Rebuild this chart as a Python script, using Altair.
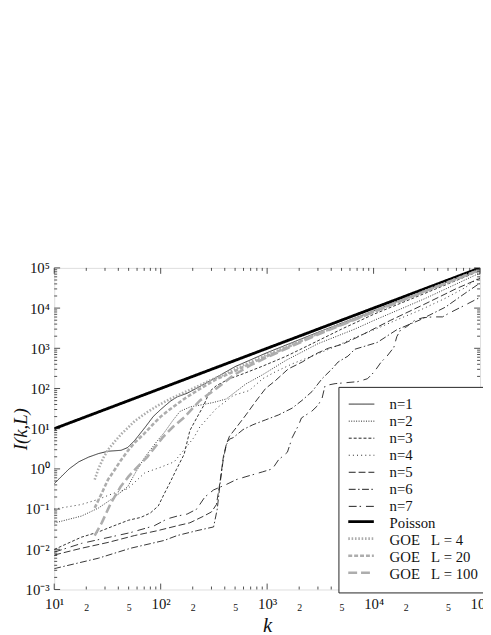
import math
import altair as alt
import pandas as pd

# ---------------- data ----------------
thin_names = ["n=1", "n=2", "n=3", "n=4", "n=5", "n=6", "n=7"]
thick_names = ["Poisson",
               "GOE\u00a0\u00a0\u00a0L\u00a0=\u00a04",
               "GOE\u00a0\u00a0\u00a0L\u00a0=\u00a020",
               "GOE\u00a0\u00a0\u00a0L\u00a0=\u00a0100"]
names = thin_names + thick_names

n1_k = [10, 13.8, 17, 21, 26, 32, 42.5, 49, 57, 71, 85, 100, 123, 143, 177, 233, 334, 500, 1000, 3000, 10000, 30000, 100000]
n1_I = [0.43, 1.0, 1.5, 1.96, 2.4, 2.75, 2.9, 3.4, 5.1, 10.6, 20, 30, 48, 62, 76, 112, 190, 350, 780, 2500, 8500, 27000, 90000]

n2_k = [10, 18, 26, 37, 49, 57, 71, 93, 108, 130, 152, 190, 233, 314, 414, 632, 907, 1500, 3000, 6650, 10000, 30000, 100000]
n2_I = [0.045, 0.067, 0.106, 0.2, 0.36, 0.75, 1.96, 5, 8, 16, 27, 35, 38.5, 45, 55, 130, 220, 500, 1300, 3000, 4900, 17000, 75000]

n3_k = [10, 18, 26, 36, 50, 65, 80, 95, 108, 122, 140, 166, 188, 218, 254, 288, 334, 443, 594, 907, 1480, 2400, 5000, 10000, 30000, 100000]
n3_I = [0.0099, 0.02, 0.027, 0.038, 0.053, 0.062, 0.08, 0.12, 0.24, 0.45, 0.95, 2.3, 9, 18.5, 38, 84, 118, 175, 232, 360, 620, 1150, 3000, 7000, 23000, 85000]

n4_k = [10, 18, 26, 35, 49, 71, 100, 134, 166, 205, 233, 334, 481, 680, 907, 1195, 1720, 2640, 4350, 6650, 10150, 16530, 27330, 47300, 72000, 100000]
n4_I = [0.1, 0.13, 0.175, 0.24, 0.32, 0.8, 1.1, 1.5, 3.0, 6.0, 11, 32, 67, 89, 175, 260, 410, 640, 1100, 1850, 2900, 5100, 8900, 17600, 32000, 60000]

n5_k = [10, 18, 32, 57, 93, 143, 188, 254, 300, 334, 360, 388, 414, 443, 512, 632, 782, 967, 1195, 1580, 2135, 2820, 3740, 5050, 7090, 14500, 29100, 59000, 100000]
n5_I = [0.0072, 0.0106, 0.0148, 0.022, 0.029, 0.0385, 0.0456, 0.067, 0.085, 0.13, 0.45, 2.0, 4.1, 6.5, 10.6, 22, 48, 100, 157, 307, 456, 714, 1000, 1250, 1900, 5000, 12000, 30000, 55000]

n6_k = [10, 26, 52, 108, 143, 218, 314, 340, 360, 388, 414, 443, 481, 594, 733, 967, 1275, 1720, 2135, 2640, 3280, 4070, 4640, 5740, 6650, 10840, 16530, 27330, 47300, 72000, 100000]
n6_I = [0.0033, 0.006, 0.0106, 0.0166, 0.022, 0.029, 0.036, 0.1, 0.4, 1.8, 4, 5.5, 6, 9.5, 12.5, 16.6, 21.9, 32.5, 51, 84, 175, 307, 456, 638, 946, 1400, 2900, 5100, 10570, 23200, 42000]

n7_k = [10, 18, 32, 52, 87, 115, 143, 177, 218, 260, 314, 414, 512, 632, 907, 1120, 1275, 1550, 1720, 1980, 2100, 2640, 3010, 3280, 3500, 4350, 7090, 8760, 10150, 11780, 13370, 15500, 16530, 17980, 20400, 24640, 29100, 36000, 44400, 51500, 72000, 100000]
n7_I = [0.0085, 0.014, 0.0196, 0.026, 0.0385, 0.057, 0.067, 0.075, 0.1, 0.2, 0.3, 0.41, 0.54, 0.64, 0.845, 1.0, 1.66, 2.6, 6, 12.5, 18.5, 27.5, 38.5, 57, 118, 132, 148, 175, 260, 456, 638, 1058, 1960, 2905, 3440, 5100, 5750, 6040, 6040, 7550, 11800, 18500]

poisson_k = [10, 100000]
poisson_I = [10, 100000]

goe4_k = [24, 26, 29, 32, 37, 43, 50, 57, 75, 93, 123, 166, 230, 300, 420, 600, 1000, 2000, 5000, 10000, 30000, 100000]
goe4_I = [0.54, 1.0, 1.9, 3.0, 4.8, 7.5, 11, 15.5, 26, 37, 55, 80, 118, 165, 240, 380, 700, 1500, 4000, 8300, 26500, 90000]

goe20_k = [24, 28, 32, 37, 42, 49, 57, 70, 85, 100, 115, 166, 233, 334, 480, 700, 1000, 3000, 10000, 30000, 100000]
goe20_I = [0.107, 0.25, 0.54, 0.95, 1.6, 2.8, 4.5, 7.5, 13, 20, 27, 55, 98, 170, 260, 420, 640, 2300, 8100, 26000, 90000]

goe100_k = [24, 28, 34, 42, 50, 57, 75, 93, 104, 130, 166, 233, 334, 480, 700, 1000, 3000, 10000, 30000, 100000]
goe100_I = [0.022, 0.046, 0.14, 0.36, 0.65, 0.95, 2.0, 4.1, 6.0, 11, 19, 50, 100, 210, 380, 600, 2200, 8000, 26000, 90000]

all_k = [n1_k, n2_k, n3_k, n4_k, n5_k, n6_k, n7_k, poisson_k, goe4_k, goe20_k, goe100_k]
all_I = [n1_I, n2_I, n3_I, n4_I, n5_I, n6_I, n7_I, poisson_I, goe4_I, goe20_I, goe100_I]

# styles
colors = ["#1e1e1e"] * 7 + ["#000000", "#adadad", "#adadad", "#adadad"]
dashes = [[1, 0], [1, 1.5], [3, 2], [1, 3.2], [7, 3], [7, 2.5, 1.5, 2.5], [8, 3, 1.5, 5],
          [1, 0], [1.6, 1.8], [4, 2], [9, 4]]
widths = [0.9, 0.9, 0.9, 0.9, 0.9, 0.9, 0.9, 2.9, 2.6, 2.6, 2.6]

x_major = [10, 100, 1000, 10000, 100000]
y_major = [1e-3, 1e-2, 1e-1, 1e0, 1e1, 1e2, 1e3, 1e4, 1e5]
x_labeled = [10, 20, 50, 100, 200, 500, 1000, 2000, 5000, 10000, 20000, 50000, 100000]

sup = {"-": "\u207b", "0": "\u2070", "1": "\u00b9", "2": "\u00b2", "3": "\u00b3",
       "4": "\u2074", "5": "\u2075", "6": "\u2076", "7": "\u2077", "8": "\u2078", "9": "\u2079"}


def pow_label(p):
    return "10" + "".join(sup[c] for c in str(p))


rows = []
for name, ks, vs, w in zip(names, all_k, all_I, widths):
    for i, (k, v) in enumerate(zip(ks, vs)):
        rows.append({"series": name, "k": k, "I": v, "idx": i, "w": w})
df = pd.DataFrame(rows)
df_thin = df[df["series"].isin(thin_names)]
df_thick = df[df["series"].isin(thick_names)]

# label expressions (minor labels are pushed one short line down)
x_expr = ""
for v in x_labeled:
    p = math.log10(v)
    if abs(p - round(p)) < 1e-6:
        lab = "'" + pow_label(int(round(p))) + "'"
    else:
        lab = "['', '" + str(int(round(v / 10 ** math.floor(p)))) + "']"
    x_expr += f"datum.value < {v * 1.2} ? {lab} : "
x_expr += "''"

y_expr = ""
for v in y_major:
    p = int(round(math.log10(v)))
    y_expr += f"datum.value < {v * 1.2} ? '{pow_label(p)}' : "
y_expr += "''"

W, H = 433, 327
FONT = "Liberation Serif"
xscale = alt.Scale(type="log", domain=[10, 100000], nice=False)
yscale = alt.Scale(type="log", domain=[0.001, 100000], nice=False)
minor_test = "abs(log(datum.value)/LN10 - round(log(datum.value)/LN10)) > 0.01"

LX, LY, LPAD, ROW = 289, 121, 10, 17.0
SEG = "M-2,0L2,0"  # legend line sample, 26 px long at symbolSize 169

x_enc = alt.X("k:Q", scale=xscale,
              axis=alt.Axis(values=x_labeled, labelExpr=x_expr, ticks=False, domain=False, grid=False,
                            labelFont=FONT, labelColor="#111",
                            labelFontSize={"condition": {"test": minor_test, "value": 10}, "value": 15},
                            labelLineHeight=6, labelPadding=7,
                            labelOverlap=False, labelFlush=False,
                            title="k", titleFont=FONT, titleFontStyle="italic", titleFontWeight="normal",
                            titleFontSize=21, titleColor="#111", titleY=37, titleBaseline="middle"))
y_enc = alt.Y("I:Q", scale=yscale,
              axis=alt.Axis(values=y_major, labelExpr=y_expr, ticks=False, domain=False, grid=False,
                            labelFont=FONT, labelFontSize=15, labelColor="#111", labelPadding=5,
                            labelOverlap=False, labelFlush=False,
                            title="I(k,L)", titleFont=FONT, titleFontStyle="italic",
                            titleFontWeight="normal", titleFontSize=19, titleColor="#111",
                            titleX=-34, titleY=H / 2, titleAngle=270, titleBaseline="middle",
                            titleAlign="center"))

common_legend = dict(title=None, orient="none", symbolType=SEG, symbolSize=169,
                     rowPadding=1.33, labelFont=FONT, labelFontSize=15, labelColor="#111",
                     labelLimit=200)

# thin curves; their legend lists every entry and carries the frame
thin = alt.Chart(df_thin).mark_line(clip=True, strokeWidth=0.9).encode(
    x=x_enc, y=y_enc,
    color=alt.Color("series:N", scale=alt.Scale(domain=names, range=colors),
                    legend=alt.Legend(legendX=LX, legendY=LY, fillColor="white", strokeColor="#222",
                                      padding=LPAD, symbolStrokeWidth=1, symbolOffset=6,
                                      labelOffset=21, zindex=1, **common_legend)),
    strokeDash=alt.StrokeDash("series:N", scale=alt.Scale(domain=names, range=dashes)),
    order="idx:Q",
)

# thick curves (Poisson, GOE); their legend only redraws the last four line samples thick
thick = alt.Chart(df_thick).mark_line(clip=True).encode(
    x=alt.X("k:Q", scale=xscale),
    y=alt.Y("I:Q", scale=yscale),
    color=alt.Color("series:N", scale=alt.Scale(domain=thick_names, range=colors[7:]),
                    legend=alt.Legend(legendX=LX + LPAD, legendY=LY + LPAD + 7 * ROW,
                                      fillColor="white", padding=0, symbolStrokeWidth=2.7,
                                      symbolOffset=5, labelOffset=14, labelExpr="' '",
                                      zindex=2, **common_legend)),
    strokeDash=alt.StrokeDash("series:N", scale=alt.Scale(domain=thick_names, range=dashes[7:])),
    strokeWidth=alt.StrokeWidth("w:Q", scale=None),
    order="idx:Q",
)

# inward tick marks on all four sides
x_minor = [m * 10 ** p for p in range(1, 5) for m in range(2, 10)]
y_minor = [m * 10.0 ** p for p in range(-3, 5) for m in range(2, 10)]
xt_major = pd.DataFrame({"v": x_major})
xt_minor = pd.DataFrame({"v": x_minor})
yt_major = pd.DataFrame({"v": y_major})
yt_minor = pd.DataFrame({"v": y_minor})


def xticks(data, length):
    base = alt.Chart(data).mark_rule(color="#222", strokeWidth=0.8)
    b = base.encode(x=alt.X("v:Q", scale=xscale), y=alt.value(H), y2=alt.value(H - length))
    t = base.encode(x=alt.X("v:Q", scale=xscale), y=alt.value(0), y2=alt.value(length))
    return [b, t]


def yticks(data, length):
    base = alt.Chart(data).mark_rule(color="#222", strokeWidth=0.8)
    l = base.encode(y=alt.Y("v:Q", scale=yscale), x=alt.value(0), x2=alt.value(length))
    r = base.encode(y=alt.Y("v:Q", scale=yscale), x=alt.value(W), x2=alt.value(W - length))
    return [l, r]


tick_layers = xticks(xt_major, 6) + xticks(xt_minor, 3) + yticks(yt_major, 6) + yticks(yt_minor, 3)

chart = alt.layer(thin, thick, *tick_layers).resolve_scale(
    color="independent", strokeDash="independent"
).properties(
    width=W, height=H,
    autosize=alt.AutoSizeParams(type="none"),
    padding={"left": 47, "top": 259, "right": 3, "bottom": 41},
).configure_view(stroke="#222", strokeWidth=1).configure(background="white")

chart.save("out.html", embed_options={"renderer": "svg", "actions": False})
